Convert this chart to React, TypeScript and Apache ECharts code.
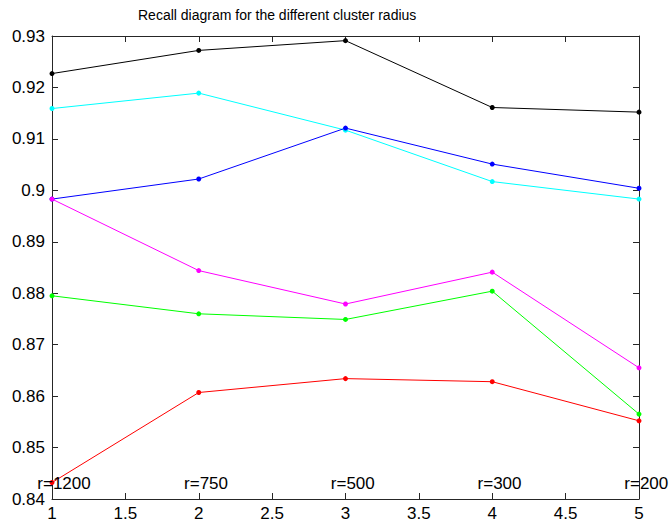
import React, { useEffect, useRef } from "react";
import * as echarts from "echarts";

const xValues = [1, 2, 3, 4, 5];
const blackSeries = [0.9227, 0.9272, 0.9291, 0.9161, 0.9152];
const cyanSeries = [0.9159, 0.9189, 0.9117, 0.9017, 0.8983];
const blueSeries = [0.8983, 0.9022, 0.9121, 0.9051, 0.9004];
const magentaSeries = [0.8983, 0.8844, 0.8779, 0.8841, 0.8655];
const greenSeries = [0.8795, 0.876, 0.8749, 0.8804, 0.8565];
const redSeries = [0.8432, 0.8607, 0.8634, 0.8628, 0.8552];
const radiusLabels = ["r=1200", "r=750", "r=500", "r=300", "r=200"];
const radiusLabelX = [0.9, 1.9, 2.9, 3.9, 4.9];
const radiusLabelY = 0.8431;

const FONT = "'Liberation Sans', Arial, sans-serif";
const AXIS_COLOR = "#262626";

export default function App() {
  const ref = useRef<HTMLDivElement>(null);
  useEffect(() => {
    if (!ref.current) return;
    const chart = echarts.init(ref.current, null, { renderer: "svg" });
    const mk = (vals: number[], color: string) => ({
      type: "line",
      data: xValues.map((x, i) => [x, vals[i]]),
      symbol: "circle",
      symbolSize: 5,
      showSymbol: true,
      lineStyle: { color, width: 1 },
      itemStyle: { color },
      xAxisIndex: 0,
      yAxisIndex: 0,
      clip: false,
    });
    const axisLineCommon = { show: true, lineStyle: { color: AXIS_COLOR, width: 1 } };
    const tickCommon = { show: true, inside: true, length: 6, lineStyle: { color: AXIS_COLOR } };
    chart.setOption({
      animation: false,
      backgroundColor: "#ffffff",
      title: {
        text: "Recall diagram for the different cluster radius",
        left: 133,
        top: 3,
        textStyle: { fontFamily: FONT, fontSize: 14, fontWeight: "normal", color: "#000" },
      },
      grid: { left: 52, right: 31, top: 36, bottom: 26, containLabel: false },
      xAxis: [
        {
          type: "value",
          min: 1,
          max: 5,
          interval: 0.5,
          position: "bottom",
          axisLine: axisLineCommon,
          axisTick: tickCommon,
          splitLine: { show: false },
          axisLabel: {
            margin: 6,
            fontFamily: FONT,
            fontSize: 17,
            color: "#000",
            formatter: (v: number) => String(+v.toFixed(1)),
          },
        },
        {
          type: "value",
          min: 1,
          max: 5,
          interval: 0.5,
          position: "top",
          axisLine: axisLineCommon,
          axisTick: tickCommon,
          splitLine: { show: false },
          axisLabel: { show: false },
        },
      ],
      yAxis: [
        {
          type: "value",
          min: 0.84,
          max: 0.93,
          interval: 0.01,
          position: "left",
          axisLine: axisLineCommon,
          axisTick: tickCommon,
          splitLine: { show: false },
          axisLabel: {
            margin: 7,
            fontFamily: FONT,
            fontSize: 17,
            color: "#000",
            formatter: (v: number) => String(+v.toFixed(2)),
          },
        },
        {
          type: "value",
          min: 0.84,
          max: 0.93,
          interval: 0.01,
          position: "right",
          axisLine: axisLineCommon,
          axisTick: tickCommon,
          splitLine: { show: false },
          axisLabel: { show: false },
        },
      ],
      series: [
        mk(blackSeries, "#000000"),
        mk(cyanSeries, "#00ffff"),
        mk(blueSeries, "#0000ff"),
        mk(magentaSeries, "#ff00ff"),
        mk(greenSeries, "#00ff00"),
        mk(redSeries, "#ff0000"),
        {
          type: "scatter",
          xAxisIndex: 0,
          yAxisIndex: 0,
          clip: false,
          symbolSize: 0,
          silent: true,
          z: 10,
          itemStyle: { opacity: 1, color: "#000" },
          data: radiusLabels.map((name, i) => ({ name, value: [radiusLabelX[i], radiusLabelY] })),
          label: {
            show: true,
            position: "right",
            distance: 0,
            formatter: "{b}",
            fontFamily: FONT,
            fontSize: 17,
            color: "#000",
            opacity: 1,
          },
        },
      ],
    });
    return () => chart.dispose();
  }, []);
  return (
    <div
      ref={ref}
      style={{ position: "fixed", left: 0, top: 0, width: 670, height: 525, background: "#fff" }}
    />
  );
}
